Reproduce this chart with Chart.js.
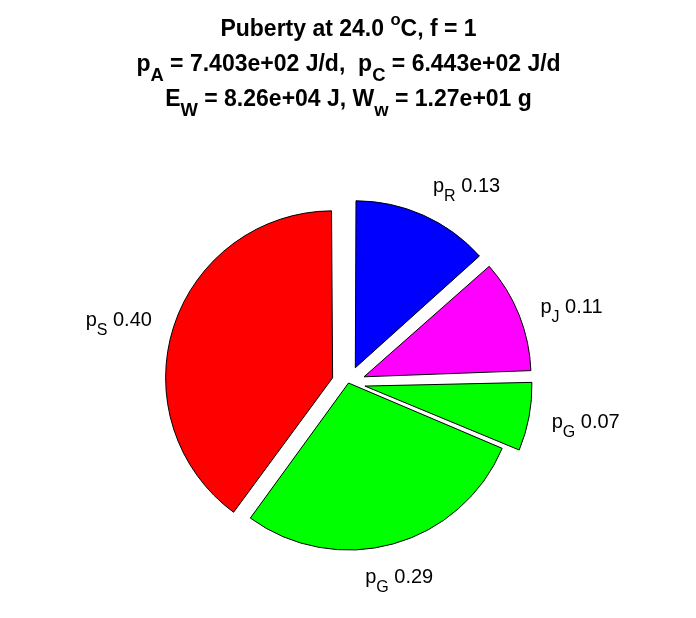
<!DOCTYPE html>
<html>
<head>
<meta charset="utf-8">
<script src="https://cdn.jsdelivr.net/npm/chart.js@4"></script>
<style>
  body { margin: 0; background: #fff; }
  #wrap { width: 696px; height: 618px; }
</style>
</head>
<body>
<div id="wrap"><canvas id="myChart" width="696" height="618"></canvas></div>
<script>
// pie data, clockwise from 12 o'clock
const fluxNames = ["R", "J", "G", "G", "S"];
const fluxShares = [0.134, 0.111, 0.069, 0.286, 0.4];
const explode = [1, 1, 1, 0, 1];
const sliceColors = ["#0000ff", "#ff00ff", "#00ff00", "#00ff00", "#ff0000"];

// title, split into [text, "sub"/"sup"] pieces
const titleLines = [
  [["Puberty at 24.0 "], ["o", "sup"], ["C, f = 1"]],
  [["p"], ["A", "sub"], [" = 7.403e+02 J/d,  p"], ["C", "sub"], [" = 6.443e+02 J/d"]],
  [["E"], ["W", "sub"], [" = 8.26e+04 J, W"], ["w", "sub"], [" = 1.27e+01 g"]],
];

const FONT = '"Liberation Sans", Arial, Helvetica, sans-serif';
const R = 167;

function pieceFont(size, bold, kind) {
  const s = kind === "sub" ? size * 0.8 : kind === "sup" ? size * 0.72 : size;
  return (bold ? "bold " : "") + s.toFixed(1) + "px " + FONT;
}

function richWidth(ctx, parts, size, bold) {
  let w = 0;
  parts.forEach(([t, kind]) => {
    ctx.font = pieceFont(size, bold, kind);
    w += ctx.measureText(t).width;
  });
  return w;
}

function drawRich(ctx, parts, left, baseline, size, bold) {
  let x = left;
  ctx.textAlign = "left";
  ctx.textBaseline = "alphabetic";
  parts.forEach(([t, kind]) => {
    ctx.font = pieceFont(size, bold, kind);
    let dy = 0;
    if (kind === "sub") dy = size * 0.45;
    if (kind === "sup") dy = -size * 0.48;
    ctx.fillText(t, x, baseline + dy);
    x += ctx.measureText(t).width;
  });
}

const pieDecor = {
  id: "pieDecor",
  beforeDatasetsDraw(chart) {
    // chart.js grows offset arcs a bit, keep all slices at the same radius
    chart.getDatasetMeta(0).data.forEach((arc) => {
      const o = (arc.options.offset || 0) / 4;
      const fix = 1 - Math.sin(Math.min(Math.PI, arc.circumference));
      arc.outerRadius = R - o * fix;
    });
  },
  afterDatasetsDraw(chart) {
    const ctx = chart.ctx;
    const arcs = chart.getDatasetMeta(0).data;
    ctx.save();
    ctx.fillStyle = "#000";

    // slice labels
    const size = 20;
    arcs.forEach((arc, i) => {
      const mid = (arc.startAngle + arc.endAngle) / 2;
      const c = Math.cos(mid), s = Math.sin(mid);
      const o = (arc.options.offset || 0) / 4;
      const ex = arc.x + c * o, ey = arc.y + s * o;
      const parts = [["p"], [fluxNames[i], "sub"], [" " + fluxShares[i].toFixed(2)]];
      const w = richWidth(ctx, parts, size, false);
      const h = 20;
      const sx = Math.abs(c) > 0.35 ? Math.sign(c) : 0;
      const sy = Math.abs(s) > 0.9 ? Math.sign(s) : 0;
      const cx = ex + 190 * c + sx * w / 2;
      const cy = ey + 190 * s + sy * h / 2;
      drawRich(ctx, parts, cx - w / 2, cy + size * 0.716 / 2, size, false);
    });

    // title
    const tx = arcs[0].x;
    const baselines = [36, 71, 106];
    titleLines.forEach((parts, k) => {
      const w = richWidth(ctx, parts, 23, true);
      drawRich(ctx, parts, tx - w / 2, baselines[k], 23, true);
    });
    ctx.restore();
  },
};

new Chart(document.getElementById("myChart"), {
  type: "pie",
  data: {
    labels: fluxNames.map((n) => "p" + n),
    datasets: [
      {
        data: fluxShares,
        backgroundColor: sliceColors,
        borderColor: "#000",
        borderWidth: 1,
        offset: explode.map((e) => e * 0.1 * R * 4),
      },
    ],
  },
  options: {
    responsive: false,
    animation: false,
    events: [],
    radius: R,
    layout: { padding: { top: 148, left: 1 } },
    plugins: {
      legend: { display: false },
      tooltip: { enabled: false },
      title: { display: false },
    },
  },
  plugins: [pieDecor],
});
</script>
</body>
</html>
